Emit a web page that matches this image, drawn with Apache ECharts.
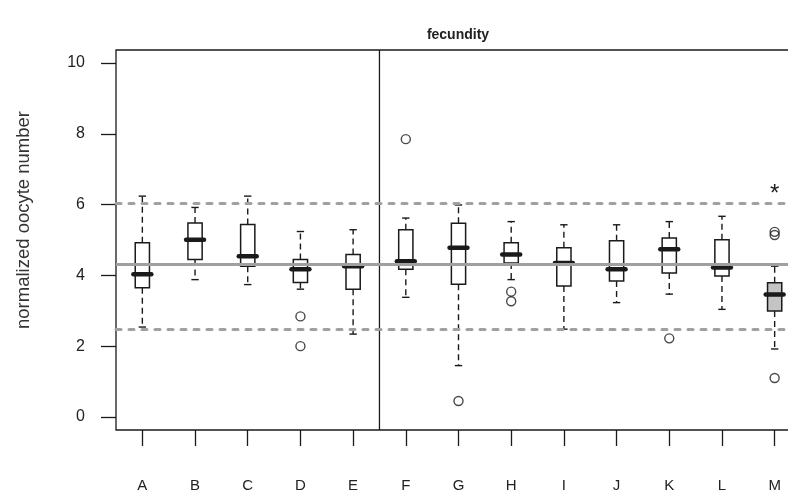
<!DOCTYPE html>
<html>
<head>
<meta charset="utf-8">
<script src="https://cdn.jsdelivr.net/npm/echarts@6/dist/echarts.min.js"></script>
<style>
html,body{margin:0;padding:0;background:#fff;overflow:hidden;width:788px;height:490px;}
#chart{width:801px;height:490px;}
</style>
</head>
<body>
<div id="chart"></div>
<script>
// ---- data ----
const categories = ['A','B','C','D','E','F','G','H','I','J','K','L','M'];
const whiskerLow  = [2.54, 3.88, 3.74, 3.61, 2.34, 3.38, 1.45, 3.88, 2.48, 3.23, 3.47, 3.04, 1.92];
const q1          = [3.65, 4.45, 4.26, 3.80, 3.61, 4.17, 3.75, 4.35, 3.70, 3.84, 4.07, 3.98, 2.99];
const median      = [4.03, 5.01, 4.54, 4.17, 4.26, 4.40, 4.78, 4.59, 4.35, 4.17, 4.74, 4.22, 3.46];
const q3          = [4.92, 5.48, 5.44, 4.45, 4.59, 5.29, 5.47, 4.92, 4.78, 4.98, 5.06, 5.01, 3.79];
const whiskerHigh = [6.24, 5.92, 6.24, 5.24, 5.29, 5.62, 5.99, 5.52, 5.43, 5.43, 5.52, 5.67, 4.26];
const highlighted = [false,false,false,false,false,false,false,false,false,false,false,false,true];
const outlierCats = ['D', 'D', 'F', 'G', 'H', 'H', 'K', 'M', 'M', 'M'];
const outlierVals = [2.84, 2.00, 7.85, 0.45, 3.54, 3.27, 2.22, 5.23, 5.14, 1.10];
const starCats = ['M'];
const starVals = [6.43];
const refCenter = 4.31;
const refUpper = 6.05;
const refLower = 2.49;
const dividerAfter = 'E';
const yTicks = [0, 2, 4, 6, 8, 10];
const titleText = 'fecundity';
const yTitle = 'normalized oocyte number';

// ---- build ----
const boxData = categories.map((c, i) => [i, whiskerLow[i], q1[i], median[i], q3[i], whiskerHigh[i], highlighted[i] ? 1 : 0]);
const outlierData = outlierCats.map((c, i) => [categories.indexOf(c), outlierVals[i]]);
const starData = starCats.map((c, i) => [categories.indexOf(c), starVals[i]]);
const ink = '#1a1a1a';
const font = 'Liberation Sans, Arial, sans-serif';

function renderBox(params, api) {
  const idx = api.value(0);
  const band = api.size([1, 0])[0];
  const x = api.coord([idx, 0])[0];
  const yLow = api.coord([idx, api.value(1)])[1];
  const yQ1 = api.coord([idx, api.value(2)])[1];
  const yMed = api.coord([idx, api.value(3)])[1];
  const yQ3 = api.coord([idx, api.value(4)])[1];
  const yHigh = api.coord([idx, api.value(5)])[1];
  const hl = api.value(6) === 1;
  const bw = band * 0.27;
  const cap = band * 0.07;
  const mw = band * 0.17;
  const dash = { stroke: ink, lineWidth: 1.4, lineDash: [6, 4] };
  const solid = { stroke: ink, lineWidth: 1.4 };
  return {
    type: 'group',
    children: [
      { type: 'line', shape: { x1: x, y1: yQ3, x2: x, y2: yHigh }, style: dash },
      { type: 'line', shape: { x1: x, y1: yQ1, x2: x, y2: yLow }, style: dash },
      { type: 'line', shape: { x1: x - cap, y1: yHigh, x2: x + cap, y2: yHigh }, style: solid },
      { type: 'line', shape: { x1: x - cap, y1: yLow, x2: x + cap, y2: yLow }, style: solid },
      { type: 'rect', shape: { x: x - bw / 2, y: yQ3, width: bw, height: yQ1 - yQ3 },
        style: { fill: hl ? '#c4c4c4' : '#ffffff', stroke: ink, lineWidth: 1.5 } },
      { type: 'line', shape: { x1: x - mw, y1: yMed, x2: x + mw, y2: yMed },
        style: { stroke: ink, lineWidth: 4.5, lineCap: 'round' } }
    ]
  };
}

function renderDivider(params, api) {
  const idx = api.value(0);
  const band = api.size([1, 0])[0];
  const x = api.coord([idx, 0])[0] + band / 2;
  const cs = params.coordSys;
  return { type: 'line', shape: { x1: x, y1: cs.y, x2: x, y2: cs.y + cs.height },
    style: { stroke: ink, lineWidth: 1.3 } };
}

function renderStar(params, api) {
  const p = api.coord([api.value(0), api.value(1)]);
  return { type: 'text', x: p[0], y: p[1] + 5,
    style: { text: '*', fontSize: 24, fontFamily: font, fill: ink, align: 'center', verticalAlign: 'middle' } };
}

const chart = echarts.init(document.getElementById('chart'), null, { renderer: 'canvas' });
chart.setOption({
  animation: false,
  backgroundColor: '#ffffff',
  graphic: [
    {
      type: 'text', x: 458, y: 35,
      style: { text: titleText, fontSize: 14, fontWeight: 'bold', fontFamily: font, fill: '#222', align: 'center', verticalAlign: 'middle' }
    },
    {
      type: 'text', x: 24, y: 220, rotation: Math.PI / 2,
      style: { text: yTitle, fontSize: 18.5, fontFamily: font, fill: '#333', align: 'center', verticalAlign: 'middle' }
    }
  ],
  grid: { left: 116, top: 50, right: 0, bottom: 60, show: true, borderColor: ink, borderWidth: 1.3, backgroundColor: 'transparent', outerBoundsMode: 'none', containLabel: false },
  xAxis: {
    type: 'category', data: categories, boundaryGap: true,
    axisLine: { show: false, onZero: false },
    axisTick: { show: true, alignWithLabel: true, length: 16, lineStyle: { color: ink, width: 1.3 } },
    axisLabel: { margin: 48, fontSize: 15, color: '#222', fontFamily: font },
    splitLine: { show: false }
  },
  yAxis: {
    type: 'value', min: -0.37, max: 10.37,
    axisLine: { show: false },
    axisTick: { show: true, length: 15, customValues: yTicks, lineStyle: { color: ink, width: 1.3 } },
    axisLabel: { margin: 31, fontSize: 16, color: '#222', fontFamily: font, customValues: yTicks },
    splitLine: { show: false }
  },
  series: [
    {
      type: 'line', data: [], z: 1, silent: true,
      markLine: {
        silent: true, symbol: 'none', label: { show: false },
        data: [
          { yAxis: refCenter, lineStyle: { color: '#a0a0a0', width: 3, type: 'solid' } },
          { yAxis: refUpper, lineStyle: { color: '#a0a0a0', width: 3, type: [5, 8], cap: 'round' } },
          { yAxis: refLower, lineStyle: { color: '#a0a0a0', width: 3, type: [5, 8], cap: 'round' } }
        ]
      }
    },
    { type: 'custom', data: [[categories.indexOf(dividerAfter)]], renderItem: renderDivider, z: 3, silent: true },
    { type: 'custom', data: boxData, renderItem: renderBox, z: 4, silent: true, encode: { x: 0, y: [1, 2, 3, 4, 5] } },
    {
      type: 'scatter', data: outlierData, symbol: 'circle', symbolSize: 9, z: 5, silent: true,
      itemStyle: { color: 'rgba(255,255,255,0)', borderColor: ink, borderWidth: 1.4 }
    },
    { type: 'custom', data: starData, renderItem: renderStar, z: 5, silent: true }
  ]
});
</script>
</body>
</html>
